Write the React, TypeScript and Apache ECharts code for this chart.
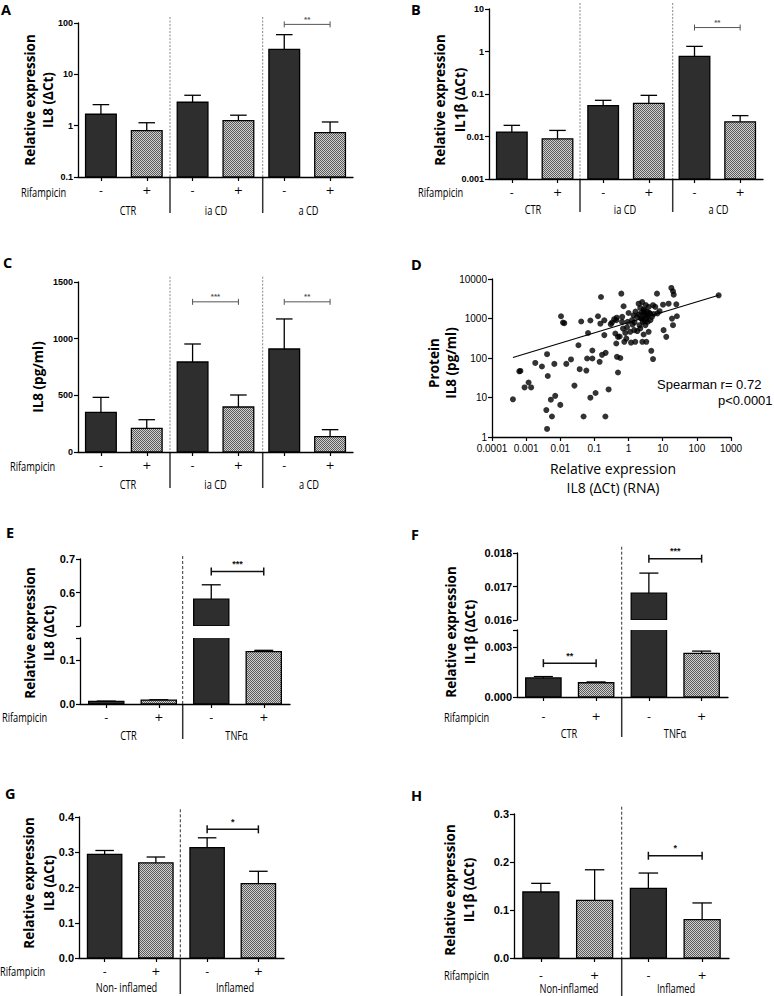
import React, { useEffect, useRef } from 'react';
import * as echarts from 'echarts';

// ---------------- DATA ----------------
const rifSigns = ['-', '+'];
const groupsCD = ['CTR', 'ia CD', 'a CD'];
const groupsTNF = ['CTR', 'TNFα'];
const groupsInflG = ['Non- inflamed', 'Inflamed'];
const groupsInflH = ['Non-inflamed', 'Inflamed'];

// Panel A – IL8 mRNA (log)
const aMean = [1.67, 0.8, 2.86, 1.25, 30.7, 0.73];
const aErrTop = [2.57, 1.14, 3.91, 1.6, 59.3, 1.18];
const aTicks = [0.1, 1, 10, 100];
const aSig = [[4, 5, 94]];
const aStars = ['**'];

// Panel B – IL1β mRNA (log)
const bMean = [0.0127, 0.0088, 0.053, 0.0605, 0.766, 0.0222];
const bErrTop = [0.0183, 0.0139, 0.071, 0.093, 1.32, 0.031];
const bTicks = [0.001, 0.01, 0.1, 1, 10];
const bSig = [[4, 5, 3.66]];
const bStars = ['**'];

// Panel C – IL8 protein
const cMean = [350, 209, 794, 397, 909, 135];
const cErrTop = [482, 285, 953, 503, 1174, 197];
const cTicks = [0, 500, 1000, 1500];
const cSig = [[2, 3, 1325], [4, 5, 1325]];
const cStars = ['***', '**'];

// Panel D – protein vs RNA scatter
const dRna = [
  0.00041, 0.00063, 0.00068, 0.0009, 0.00118, 0.0014, 0.00185, 0.0029, 0.0041, 0.0043,
  0.0067, 0.0039, 0.0041, 0.0057, 0.0053, 0.0071, 0.01, 0.0105, 0.012, 0.0131,
  0.015, 0.0206, 0.026, 0.034, 0.037, 0.041, 0.048, 0.058, 0.061, 0.065,
  0.076, 0.076, 0.087, 0.087, 0.108, 0.127, 0.142, 0.149, 0.156, 0.167,
  0.195, 0.209, 0.195, 0.213, 0.26, 0.327, 0.437, 0.458, 0.49, 0.49,
  0.38, 0.437, 0.41, 0.573, 0.612, 0.715, 0.645, 0.687, 0.8, 0.86,
  0.75, 0.94, 1.0, 1.12, 1.18, 1.26, 1.47, 1.57, 1.77, 1.97,
  2.1, 2.2, 2.76, 2.48, 3.1, 3.47, 2.77, 3.3, 3.87, 4.34,
  2.6, 3.6, 4.34, 4.85, 3.1, 2.53, 2.76, 3.31, 3.87, 4.63,
  5.2, 5.2, 6.8, 6.07, 8.1, 10.6, 12.7, 10.2, 14.9, 17.9,
  20, 21, 18.7, 25, 26, 20, 435, 1.6, 2.0, 2.3,
  2.9, 3.2, 3.6, 4.0, 2.5, 1.3, 1.5, 5.5, 7, 3.0,
  2.2, 1.8, 0.55, 0.65, 0.9, 1.4, 2.4, 0.3, 0.45,
];
const dProtein = [
  9, 46, 47, 18, 24, 18, 75, 61, 125, 35,
  71, 4.8, 1.6, 3.3, 8.8, 11, 6.5, 1140, 790, 760,
  71, 92, 20, 210, 52, 840, 3.3, 48, 97, 430,
  890, 9.9, 155, 97, 13, 1140, 80, 740, 3500, 120,
  380, 3.3, 900, 135, 16, 790, 233, 107, 43, 343,
  960, 906, 417, 100, 4260, 2040, 820, 556, 433, 310,
  257, 820, 1380, 460, 245, 906, 507, 257, 1100, 2375,
  676, 1850, 1330, 993, 1210, 1470, 1680, 993, 1960, 1330,
  820, 820, 906, 1100, 676, 257, 393, 257, 460, 152,
  94, 2170, 4260, 1960, 1530, 507, 343, 2240, 2375, 5930,
  4890, 4020, 993, 2290, 1140, 676, 3870, 1500, 1250, 1000,
  1600, 2200, 1150, 1400, 2600, 700, 800, 1300, 1350, 850,
  560, 480, 350, 1100, 600, 1200, 1400, 720, 1050,
];
const dFitX = [0.00041, 435];
const dFitY = [103, 3870];
const dXTicks = [0.0001, 0.001, 0.01, 0.1, 1, 10, 100, 1000];
const dYTicks = [1, 10, 100, 1000, 10000];

// Panel E – IL8 in cells (broken axis)
const eMean = [0.006, 0.009, 0.58, 0.119];
const eErrTop = [0.0066, 0.0097, 0.623, 0.122];
const eTicksLow = [0, 0.1];
const eTicksHigh = [0.5, 0.6, 0.7];
const eBreak = [0.15, 0.5];
const eSigHigh = [[2, 3, 0.663]];
const eStarsHigh = ['***'];

// Panel F – IL1β in cells (broken axis)
const fMean = [0.00114, 0.00085, 0.0168, 0.0026];
const fErrTop = [0.00122, 0.0009, 0.0174, 0.00274];
const fTicksLow = [0, 0.003];
const fTicksHigh = [0.016, 0.017, 0.018];
const fBreak = [0.004, 0.016];
const fSigHigh = [[2, 3, 0.01783]];
const fStarsHigh = ['***'];
const fSigLow = [[0, 1, 0.00202]];
const fStarsLow = ['**'];

// Panel G – IL8, inflamed / non-inflamed
const gMean = [0.294, 0.27, 0.313, 0.211];
const gErrTop = [0.305, 0.2865, 0.341, 0.246];
const gTicks = [0, 0.1, 0.2, 0.3, 0.4];
const gSig = [[2, 3, 0.365]];
const gStars = ['*'];

// Panel H – IL1β, inflamed / non-inflamed
const hMean = [0.1375, 0.12, 0.145, 0.08];
const hErrTop = [0.1555, 0.1838, 0.177, 0.1147];
const hTicks = [0, 0.1, 0.2, 0.3];
const hSig = [[2, 3, 0.213]];
const hStars = ['*'];

// ---------------- HELPERS ----------------
const DARK = '#2e2e2e';
const TICK_FONT = 'Liberation Sans';
const LABEL_FONT = 'Open Sans';

const cats = (groups: string[]) => groups.flatMap((g) => rifSigns.map((r) => `${g}|${r}`));
const logFmt = (v: number) => String(Number(Number(v).toPrecision(2)));
const fixedFmt = (d: number) => (v: number) => Number(v).toFixed(d);
const step = (t: number[]) => Number((t[1] - t[0]).toPrecision(6));
const near = (list: number[], v: number) => list.some((t) => Math.abs(t - v) < 1e-9 * Math.max(1, Math.abs(t)) + 1e-12);

function makePattern() {
  const c = document.createElement('canvas');
  c.width = 2;
  c.height = 2;
  const ctx = c.getContext('2d')!;
  ctx.fillStyle = '#cfcfcf';
  ctx.fillRect(0, 0, 2, 2);
  ctx.fillStyle = '#5c5c5c';
  ctx.fillRect(0, 0, 1, 1);
  ctx.fillRect(1, 1, 1, 1);
  return { image: c, repeat: 'repeat' };
}

const makeBarRender = (base: number, pattern: any) => (params: any, api: any) => {
  const i = api.value(0);
  const m = api.value(1);
  const e = api.value(2);
  if (!(m > base)) return { type: 'group', children: [] };
  const band = api.size([1, 0], [i, m])[0];
  const bw = band * 0.67;
  const p0 = api.coord([i, base]);
  const p1 = api.coord([i, m]);
  const p2 = api.coord([i, e]);
  const cx = p1[0];
  const cap = bw * 0.27;
  const ls = { stroke: '#000', lineWidth: 1.3 };
  return {
    type: 'group',
    children: [
      { type: 'line', shape: { x1: cx, y1: p1[1], x2: cx, y2: p2[1] }, style: ls },
      { type: 'line', shape: { x1: cx - cap, y1: p2[1], x2: cx + cap, y2: p2[1] }, style: ls },
      {
        type: 'rect',
        shape: { x: cx - bw / 2, y: p1[1], width: bw, height: p0[1] - p1[1] },
        style: { fill: i % 2 === 0 ? DARK : pattern, stroke: '#000', lineWidth: 1.3 },
      },
    ],
  };
};

const makeSigRender = (stars: string[], o: { tick: number; lw: number; color: string; font: string; gap: number }) =>
  (params: any, api: any) => {
    const a = api.coord([api.value(0), api.value(2)]);
    const b = api.coord([api.value(1), api.value(2)]);
    const ls = { stroke: o.color, lineWidth: o.lw };
    return {
      type: 'group',
      children: [
        { type: 'line', shape: { x1: a[0], y1: a[1], x2: b[0], y2: b[1] }, style: ls },
        { type: 'line', shape: { x1: a[0], y1: a[1] - o.tick, x2: a[0], y2: a[1] + o.tick }, style: ls },
        { type: 'line', shape: { x1: b[0], y1: b[1] - o.tick, x2: b[0], y2: b[1] + o.tick }, style: ls },
        {
          type: 'text',
          x: (a[0] + b[0]) / 2,
          y: a[1] - o.gap,
          style: {
            text: stars[params.dataIndex],
            font: o.font,
            fill: o.color,
            align: 'center',
            verticalAlign: 'bottom',
            textAlign: 'center',
            textVerticalAlign: 'bottom',
          },
        },
      ],
    };
  };

const SIG_SMALL = { tick: 3, lw: 1, color: '#555', font: `bold 8px "${TICK_FONT}"`, gap: 1 };
const SIG_BIG = { tick: 4, lw: 1.5, color: '#111', font: `bold 9px "${TICK_FONT}"`, gap: 3 };

type GridCfg = {
  box: { left: number; top: number; width: number; height: number };
  categories: string[];
  showX: boolean;
  xMargin?: number;
  log?: boolean;
  min: number;
  max: number;
  interval: number;
  labelTicks: number[];
  fmt: (v: number) => string;
  tickFont: number;
};

function buildOption(pattern: any) {
  const grids: any[] = [];
  const xAxes: any[] = [];
  const yAxes: any[] = [];
  const series: any[] = [];
  const axisLine = { show: true, lineStyle: { color: '#000', width: 1.3 } };

  const addBarGrid = (g: GridCfg, mean: number[], errTop: number[]) => {
    const gi = grids.length;
    grids.push({ ...g.box, containLabel: false });
    xAxes.push({
      type: 'category',
      gridIndex: gi,
      data: g.categories,
      show: g.showX,
      axisLine,
      axisTick: { show: true, alignWithLabel: true, length: 4, lineStyle: { color: '#000', width: 1.2 } },
      axisLabel: {
        interval: 0,
        formatter: (v: string) => v.split('|')[1],
        margin: g.xMargin ?? 8,
        fontFamily: 'DejaVu Sans',
        fontSize: 11,
        color: '#000',
      },
      splitLine: { show: false },
    });
    yAxes.push({
      type: g.log ? 'log' : 'value',
      logBase: 10,
      gridIndex: gi,
      min: g.min,
      max: g.max,
      interval: g.interval,
      axisLine,
      axisTick: { show: true, length: 4, lineStyle: { color: '#000', width: 1.2 } },
      minorTick: { show: false },
      axisLabel: {
        formatter: (v: number) => (near(g.labelTicks, v) ? g.fmt(v) : ''),
        fontFamily: TICK_FONT,
        fontWeight: 'bold',
        fontSize: g.tickFont,
        color: '#000',
        margin: 5,
      },
      splitLine: { show: false },
    });
    series.push({
      type: 'custom',
      xAxisIndex: gi,
      yAxisIndex: gi,
      clip: true,
      silent: true,
      encode: { x: 0, y: [1, 2] },
      data: mean.map((m, i) => [i, m, errTop[i]]),
      renderItem: makeBarRender(g.min, pattern),
    });
    return gi;
  };

  const addSig = (gi: number, sig: number[][], stars: string[], style: any) => {
    series.push({
      type: 'custom',
      xAxisIndex: gi,
      yAxisIndex: gi,
      clip: false,
      silent: true,
      z: 5,
      encode: { x: [0, 1], y: 2 },
      data: sig,
      renderItem: makeSigRender(stars, style),
    });
  };

  // A
  const gA = addBarGrid(
    {
      box: { left: 78, top: 23, width: 275, height: 154 },
      categories: cats(groupsCD), showX: true, xMargin: 8, log: true,
      min: aTicks[0], max: aTicks[aTicks.length - 1], interval: 1,
      labelTicks: aTicks, fmt: logFmt, tickFont: 9,
    },
    aMean, aErrTop,
  );
  addSig(gA, aSig, aStars, SIG_SMALL);

  // B
  const gB = addBarGrid(
    {
      box: { left: 489, top: 9, width: 274, height: 170 },
      categories: cats(groupsCD), showX: true, xMargin: 8, log: true,
      min: bTicks[0], max: bTicks[bTicks.length - 1], interval: 1,
      labelTicks: bTicks, fmt: logFmt, tickFont: 9,
    },
    bMean, bErrTop,
  );
  addSig(gB, bSig, bStars, SIG_SMALL);

  // C
  const gC = addBarGrid(
    {
      box: { left: 78, top: 282, width: 275, height: 170 },
      categories: cats(groupsCD), showX: true, xMargin: 8,
      min: cTicks[0], max: cTicks[cTicks.length - 1], interval: step(cTicks),
      labelTicks: cTicks, fmt: (v) => String(v), tickFont: 9,
    },
    cMean, cErrTop,
  );
  addSig(gC, cSig, cStars, SIG_SMALL);

  // D
  const gD = grids.length;
  grids.push({ left: 492, top: 279, width: 239, height: 158, containLabel: false });
  xAxes.push({
    type: 'log', logBase: 10, gridIndex: gD,
    min: dXTicks[0], max: dXTicks[dXTicks.length - 1], interval: 1,
    axisLine, axisTick: { show: true, length: 4, lineStyle: { color: '#000', width: 1.2 } },
    minorTick: { show: false }, splitLine: { show: false },
    axisLabel: { formatter: logFmt, fontFamily: TICK_FONT, fontSize: 10, color: '#000', margin: 6 },
  });
  yAxes.push({
    type: 'log', logBase: 10, gridIndex: gD,
    min: dYTicks[0], max: dYTicks[dYTicks.length - 1], interval: 1,
    axisLine, axisTick: { show: true, length: 4, lineStyle: { color: '#000', width: 1.2 } },
    minorTick: { show: false }, splitLine: { show: false },
    axisLabel: { formatter: logFmt, fontFamily: TICK_FONT, fontSize: 10, color: '#000', margin: 5 },
  });
  series.push({
    type: 'scatter', xAxisIndex: gD, yAxisIndex: gD, symbolSize: 6, silent: true,
    itemStyle: { color: '#000' },
    data: dRna.map((x, i) => [x, dProtein[i]]),
  });
  series.push({
    type: 'line', xAxisIndex: gD, yAxisIndex: gD, symbol: 'none', silent: true,
    lineStyle: { color: '#000', width: 1.2 },
    data: dFitX.map((x, i) => [x, dFitY[i]]),
  });

  // E (broken axis: upper + lower grids)
  const gEu = addBarGrid(
    {
      box: { left: 80, top: 559, width: 210, height: 67 },
      categories: cats(groupsTNF), showX: false,
      min: eBreak[1], max: eTicksHigh[eTicksHigh.length - 1], interval: step(eTicksHigh),
      labelTicks: eTicksHigh.slice(1), fmt: fixedFmt(1), tickFont: 11,
    },
    eMean, eErrTop,
  );
  addSig(gEu, eSigHigh, eStarsHigh, SIG_BIG);
  addBarGrid(
    {
      box: { left: 80, top: 638, width: 210, height: 66 },
      categories: cats(groupsTNF), showX: true, xMargin: 8,
      min: eTicksLow[0], max: eBreak[0], interval: step(eTicksLow),
      labelTicks: eTicksLow, fmt: fixedFmt(1), tickFont: 11,
    },
    eMean, eErrTop,
  );

  // F (broken axis)
  const gFu = addBarGrid(
    {
      box: { left: 517, top: 553, width: 211, height: 67 },
      categories: cats(groupsTNF), showX: false,
      min: fBreak[1], max: fTicksHigh[fTicksHigh.length - 1], interval: step(fTicksHigh),
      labelTicks: fTicksHigh, fmt: fixedFmt(3), tickFont: 11,
    },
    fMean, fErrTop,
  );
  addSig(gFu, fSigHigh, fStarsHigh, SIG_BIG);
  const gFl = addBarGrid(
    {
      box: { left: 517, top: 630, width: 211, height: 67 },
      categories: cats(groupsTNF), showX: true, xMargin: 14,
      min: fTicksLow[0], max: fBreak[0], interval: step(fTicksLow),
      labelTicks: fTicksLow, fmt: fixedFmt(3), tickFont: 11,
    },
    fMean, fErrTop,
  );
  addSig(gFl, fSigLow, fStarsLow, SIG_BIG);

  // G
  const gG = addBarGrid(
    {
      box: { left: 79, top: 817, width: 205, height: 141 },
      categories: cats(groupsInflG), showX: true, xMargin: 8,
      min: gTicks[0], max: gTicks[gTicks.length - 1], interval: step(gTicks),
      labelTicks: gTicks, fmt: fixedFmt(1), tickFont: 11,
    },
    gMean, gErrTop,
  );
  addSig(gG, gSig, gStars, SIG_BIG);

  // H
  const gH = addBarGrid(
    {
      box: { left: 514, top: 814, width: 215, height: 144 },
      categories: cats(groupsInflH), showX: true, xMargin: 12,
      min: hTicks[0], max: hTicks[hTicks.length - 1], interval: step(hTicks),
      labelTicks: hTicks, fmt: fixedFmt(1), tickFont: 11,
    },
    hMean, hErrTop,
  );
  addSig(gH, hSig, hStars, SIG_BIG);

  // -------- graphic: texts & separators --------
  const g: any[] = [];
  const txt = (text: string, x: number, y: number, font: string, align = 'center', rotation = 0, scaleX = 1, vAlign = 'middle') => {
    g.push({
      type: 'text', x, y, rotation, scaleX, silent: true,
      style: {
        text, font, fill: '#000', align, verticalAlign: vAlign,
        textAlign: align, textVerticalAlign: vAlign,
      },
    });
  };
  const line = (x: number, y1: number, y2: number, kind: 'dot' | 'dash' | 'solid') => {
    const style: any =
      kind === 'solid'
        ? { stroke: '#333', lineWidth: 1.5 }
        : kind === 'dot'
        ? { stroke: '#888', lineWidth: 1, lineDash: [2, 1.5] }
        : { stroke: '#333', lineWidth: 1, lineDash: [3, 2] };
    g.push({ type: 'line', silent: true, shape: { x1: x, y1, x2: x, y2 }, style });
  };

  const LETTER = `bold 14.5px "${LABEL_FONT}"`;
  const YT = `bold 13.5px "${LABEL_FONT}"`;
  const HL = `12px "${LABEL_FONT}"`;
  const SX = 0.77;
  const R = Math.PI / 2;

  // letters
  txt('A', 1, 2, LETTER, 'left', 0, 1, 'top');
  txt('B', 411, 2, LETTER, 'left', 0, 1, 'top');
  txt('C', 3, 255, LETTER, 'left', 0, 1, 'top');
  txt('D', 411, 257, LETTER, 'left', 0, 1, 'top');
  txt('E', 6, 525, LETTER, 'left', 0, 1, 'top');
  txt('F', 411, 527, LETTER, 'left', 0, 1, 'top');
  txt('G', 5, 786, LETTER, 'left', 0, 1, 'top');
  txt('H', 411, 788, LETTER, 'left', 0, 1, 'top');

  // y titles
  txt('Relative expression', 29.5, 100, YT, 'center', R);
  txt('IL8 (ΔCt)', 48, 100, YT, 'center', R);
  txt('Relative expression', 439.5, 100, YT, 'center', R);
  txt('IL1β (ΔCt)', 459.5, 100, YT, 'center', R);
  txt('IL8 (pg/ml)', 38, 377, YT, 'center', R);
  txt('Protein', 434, 363, YT, 'center', R);
  txt('IL8 (pg/ml)', 451, 363, YT, 'center', R);
  txt('Relative expression', 29.5, 633, YT, 'center', R);
  txt('IL8 (ΔCt)', 48.5, 633, YT, 'center', R);
  txt('Relative expression', 451, 632, YT, 'center', R);
  txt('IL1β (ΔCt)', 469.5, 632, YT, 'center', R);
  txt('Relative expression', 28.5, 883, YT, 'center', R);
  txt('IL8 (ΔCt)', 48.5, 883, YT, 'center', R);
  txt('Relative expression', 450, 890, YT, 'center', R);
  txt('IL1β (ΔCt)', 468.5, 890, YT, 'center', R);

  // D texts
  txt('Spearman r= 0.72', 657, 384, `13px "${TICK_FONT}"`, 'left');
  txt('p<0.0001', 718, 400, `13px "${TICK_FONT}"`, 'left');
  txt('Relative expression', 613, 468.5, `14px "${LABEL_FONT}"`);
  txt('IL8 (ΔCt) (RNA)', 613, 487.5, `14px "${LABEL_FONT}"`);

  // Rifampicin labels
  txt('Rifampicin', 21, 193, HL, 'left', 0, SX);
  txt('Rifampicin', 418, 192.5, HL, 'left', 0, SX);
  txt('Rifampicin', 10, 467, HL, 'left', 0, SX);
  txt('Rifampicin', 2, 718, HL, 'left', 0, SX);
  txt('Rifampicin', 444, 718, HL, 'left', 0, SX);
  txt('Rifampicin', 0, 971.5, HL, 'left', 0, SX);
  txt('Rifampicin', 444, 975.5, HL, 'left', 0, SX);

  // group labels
  const gx = (list: string[], xs: number[], y: number) => list.forEach((s, i) => txt(s, xs[i], y, HL, 'center', 0, SX));
  gx(groupsCD, [128, 216, 308.5], 210.5);
  gx(groupsCD, [533, 625, 718.5], 210);
  gx(groupsCD, [128, 215.5, 309], 485);
  gx(groupsTNF, [128.5, 236.5], 736);
  gx(groupsTNF, [569, 675], 733.5);
  gx(groupsInflG, [126.5, 235], 987.5);
  gx(groupsInflH, [569, 676], 988.5);

  // separators
  [170, 262.7].forEach((x) => { line(x, 17, 176.7, 'dot'); line(x, 176.7, 213, 'solid'); });
  [580, 672.7].forEach((x) => { line(x, 3, 178.7, 'dot'); line(x, 178.7, 212, 'solid'); });
  [170, 262.7].forEach((x) => { line(x, 276.7, 452.3, 'dot'); line(x, 452.3, 488, 'solid'); });
  line(182.7, 556, 704.3, 'dash'); line(182.7, 704.3, 739, 'solid');
  line(621.7, 546.7, 697.3, 'dash'); line(621.7, 697.3, 737, 'solid');
  line(180.3, 809.3, 958, 'dash'); line(180.3, 958, 994, 'solid');
  line(621.7, 806.7, 958.3, 'dash'); line(621.7, 958.3, 996, 'solid');

  return {
    animation: false,
    backgroundColor: '#fff',
    grid: grids,
    xAxis: xAxes,
    yAxis: yAxes,
    series,
    graphic: { elements: g },
  };
}

export default function App() {
  const ref = useRef<HTMLDivElement>(null);
  useEffect(() => {
    if (!ref.current) return;
    const chart = echarts.init(ref.current, undefined, { renderer: 'svg' });
    chart.setOption(buildOption(makePattern()) as any);
    return () => chart.dispose();
  }, []);
  return (
    <div
      ref={ref}
      style={{ position: 'absolute', left: 0, top: 0, width: 774, height: 996, background: '#fff' }}
    />
  );
}
